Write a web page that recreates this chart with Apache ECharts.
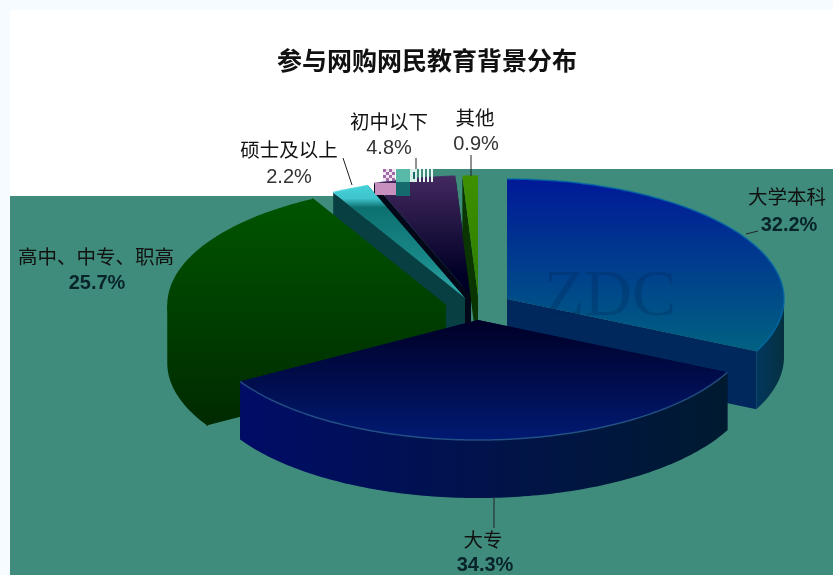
<!DOCTYPE html>
<html><head><meta charset="utf-8">
<style>html,body{margin:0;padding:0;background:#f6fbff}#c{width:833px;height:575px}</style>
<script src="https://cdn.jsdelivr.net/npm/echarts@6/dist/echarts.min.js"></script>
</head><body><div id="c"></div>
<script>
const categories = ['大学本科','大专','高中、中专、职高','硕士及以上','初中以下','其他'];
const values = [32.2,34.3,25.7,2.2,4.8,0.9];
const titleText = '参与网购网民教育背景分布';

// drawing layout, kept apart from the data
const RX = 277, RY = 120, DEPTH = 58, START = -90;
const apex = [[507,299],[478,320],[445,305],[465,298],[471,296],[478,296]];
const paintOrder = [4,6,3,2,1,5]; // z rank: back-most slices first
const v = (a,b,c,d,col0,col1)=>new echarts.graphic.LinearGradient(a,b,c,d,[{offset:0,color:col0},{offset:1,color:col1}],true);
const tealTop = ()=>new echarts.graphic.LinearGradient(0,185,0,298,[{offset:0,color:'#45d2da'},{offset:.12,color:'#3fc4cc'},{offset:.2,color:'#0d7070'},{offset:.7,color:'#1a8a8a'},{offset:1,color:'#35b0b0'}],true);
const greenAll = ()=>v(0,199,0,425,'#005400','#002a00');
const looks = [
  {top:()=>v(0,182,0,345,'#001a98','#005f82'), side:()=>v(740,0,785,0,'#003a70','#05303f'), cut:'#00285c', rim:'#0068a8'},
  {top:()=>v(0,320,0,440,'#000026','#001a72'), side:()=>v(240,0,728,0,'#000c66','#001a30'), cut:'#000a40', rim:'#2a5a8c'},
  {top:greenAll, side:greenAll, cut:greenAll(), rim:null, seamless:true},
  {top:tealTop, side:()=>'#0a4a4a', cut:'#083f42', rim:'#45d2da'},
  {top:()=>v(0,177,0,275,'#42285e','#000026'), side:()=>'#2a1a40', cut:'#030818', rim:'#42285e'},
  {top:()=>v(0,175,0,300,'#3f9000','#2c7c00'), side:()=>'#003000', cut:'#0a3400', rim:'#3f9000'}
];
const labelAt = [
  {name:[787,197],pct:[789,225],bold:true,line:[746,234,758,231]},
  {name:[483,540],pct:[485,565],bold:true,line:[494,498,494,528]},
  {name:[96,257],pct:[97,283],bold:true,line:null},
  {name:[289,150],pct:[289,177],bold:false,line:[343,158,352,185]},
  {name:[389,122],pct:[389,148],bold:false,line:[416,158,416,170]},
  {name:[475,118],pct:[476,144],bold:false,line:[471,155,471,176]}
];

const total = values.reduce((a,b)=>a+b,0);
const startAngles = [];
values.reduce((acc,val,i)=>{startAngles[i]=acc;return acc+val/total*360;},START);

function pt(c,deg,dy){const r=deg*Math.PI/180;return [c[0]+RX*Math.cos(r),c[1]+RY*Math.sin(r)+(dy||0)];}
function arc(c,a,b,dy){const n=Math.max(4,Math.ceil(Math.abs(b-a)));const o=[];for(let k=0;k<=n;k++)o.push(pt(c,a+(b-a)*k/n,dy));return o;}

function renderSlice(params,api){
  const i=api.value(0), val=api.value(1);
  const a=startAngles[i], b=a+val/total*360, c=apex[i], L=looks[i], z=paintOrder[i]*10;
  const kids=[];
  const paint=(fill)=>L.seamless?{fill:fill,stroke:fill,lineWidth:1.5}:{fill:fill};
  const face=(deg,fill,zz)=>{const p=pt(c,deg);kids.push({type:'polygon',z2:zz,shape:{points:[c,p,[p[0],p[1]+DEPTH],[c[0],c[1]+DEPTH]]},style:paint(fill)});};
  face(a,L.cut,z); face(b,L.cut,z);
  const lo=Math.max(a,0), hi=Math.min(b,180);
  if(hi>lo){
    kids.push({type:'polygon',z2:z+1,shape:{points:arc(c,lo,hi).concat(arc(c,hi,lo,DEPTH))},style:paint(L.side())});
  }
  kids.push({type:'polygon',z2:z+2,shape:{points:[c].concat(arc(c,a,b))},style:paint(L.top())});
  if(L.rim)kids.push({type:'polyline',z2:z+3,shape:{points:arc(c,a,b)},style:{fill:'none',stroke:L.rim,lineWidth:1.5,opacity:.8}});
  const lay=labelAt[i];
  if(lay.line)kids.push({type:'line',z2:200,shape:{x1:lay.line[0],y1:lay.line[1],x2:lay.line[2],y2:lay.line[3]},style:{stroke:'#222',lineWidth:1}});
  const nm=categories[i];
  kids.push({type:'text',z2:201,style:{x:lay.name[0],y:lay.name[1],text:nm,fill:'#111',align:'center',verticalAlign:'middle',font:'19.5px "Noto Sans CJK SC"'}});
  kids.push({type:'text',z2:201,style:{x:lay.pct[0],y:lay.pct[1],text:val.toFixed(1)+'%',fill:lay.bold?'#08242a':'#333',align:'center',verticalAlign:'middle',font:(lay.bold?'bold ':'')+'20px "Liberation Sans"'}});
  return {type:'group',children:kids};
}

const chart=echarts.init(document.getElementById('c'),null,{renderer:'canvas'});
const rect=(x,y,w,h,fill,z)=>({type:'rect',shape:{x,y,width:w,height:h},style:{fill},z:z,silent:true});
const dither=[];
for(let gy=0;gy<4;gy++)for(let gx=0;gx<4;gx++)dither.push(rect(383+gx*3,169+gy*3,3,3,(gx+gy)%2?'#f0e4f0':'#a06aa8',6));
chart.setOption({
  animation:false,
  backgroundColor:'#f6fbff',
  title:{text:titleText,left:422,top:43,textAlign:'center',textStyle:{fontFamily:'"Noto Sans CJK SC"',fontSize:25,fontWeight:'bold',color:'#111'}},
  graphic:[
    rect(10,10,823,565,'#ffffff',-3),
    rect(10,196,823,379,'#3f8c7c',-2),
    rect(396,169,437,30,'#3f8c7c',-2),
    rect(375,183,21,12,'#c890bf',6),
    rect(396,169,14,13,'#58b9a8',6),
    rect(396,182,14,14,'#146a6c',6),
    rect(410,169,7,13,'#d8f0ea',6),
    rect(413,172,2,7,'#1b6a6c',7),
    rect(419,169,2,13,'#e8f6f2',6),
    rect(423,169,2,13,'#e8f6f2',6),
    rect(427,169,2,13,'#e8f6f2',6),
    rect(431,169,2,13,'#e8f6f2',6),
    {type:'text',z:6,silent:true,style:{x:610,y:298,text:'ZDC',align:'center',verticalAlign:'middle',fill:'rgba(0,40,90,0.3)',font:'66px "Liberation Serif"'}}
  ].concat(dither),
  series:[{type:'custom',coordinateSystem:'none',renderItem:renderSlice,data:values.map((val,i)=>[i,val]),silent:true,clip:false}]
});
</script></body></html>
